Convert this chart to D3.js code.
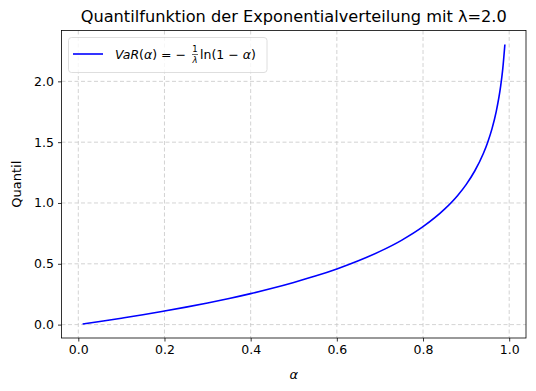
<!DOCTYPE html>
<html>
<head>
<meta charset="utf-8">
<script src="https://cdn.jsdelivr.net/npm/d3@7"></script>
<style>
  body { margin: 0; background: #fff; }
  svg { display: block; font-family: "DejaVu Sans", sans-serif; }
</style>
</head>
<body>
<svg id="chart" width="536" height="391"></svg>
<script>
// values (alpha → quantile)
const alphas = [0.01, 0.05, 0.10, 0.15, 0.20, 0.25, 0.30, 0.35, 0.40, 0.45, 0.50, 0.55, 0.60,
  0.65, 0.70, 0.75, 0.80, 0.85, 0.88, 0.90, 0.92, 0.94, 0.95, 0.96, 0.97, 0.98, 0.985, 0.99];
const quantiles = [0.005, 0.026, 0.053, 0.081, 0.112, 0.144, 0.178, 0.215, 0.255, 0.299, 0.347,
  0.399, 0.458, 0.525, 0.602, 0.693, 0.805, 0.949, 1.060, 1.151, 1.263, 1.407, 1.498, 1.609,
  1.753, 1.956, 2.100, 2.303];
const xTicks = [0, 0.2, 0.4, 0.6, 0.8, 1.0];
const yTicks = [0, 0.5, 1.0, 1.5, 2.0];

const M = { left: 61.5, right: 526, top: 30.5, bottom: 338 };

const svg = d3.select('#chart');

const x = d3.scaleLinear().domain([-0.039, 1.039]).range([M.left, M.right]);
const y = d3.scaleLinear().domain([-0.11, 2.418]).range([M.bottom, M.top]);

// ── grid ────────────────────────────────────────────────
const grid = svg.append('g').attr('stroke', '#c8c8c8').attr('stroke-dasharray', '4,2.5').attr('stroke-width', 0.8);
grid.selectAll('.gx').data(xTicks).join('line')
  .attr('x1', d => x(d)).attr('x2', d => x(d)).attr('y1', M.top).attr('y2', M.bottom);
grid.selectAll('.gy').data(yTicks).join('line')
  .attr('y1', d => y(d)).attr('y2', d => y(d)).attr('x1', M.left).attr('x2', M.right);

// ── curve ───────────────────────────────────────────────
const pts = alphas.map((a, i) => [a, quantiles[i]]);
svg.append('path')
  .datum(pts)
  .attr('fill', 'none')
  .attr('stroke', '#0000ff')
  .attr('stroke-width', 1.6)
  .attr('d', d3.line().x(d => x(d[0])).y(d => y(d[1])).curve(d3.curveMonotoneX));

// ── axes ────────────────────────────────────────────────
const xAxis = svg.append('g').attr('transform', `translate(0,${M.bottom})`)
  .call(d3.axisBottom(x).tickValues(xTicks).tickFormat(d3.format('.1f')).tickSize(3.5).tickPadding(4));
const yAxis = svg.append('g').attr('transform', `translate(${M.left},0)`)
  .call(d3.axisLeft(y).tickValues(yTicks).tickFormat(d3.format('.1f')).tickSize(3.5).tickPadding(4));
[xAxis, yAxis].forEach(g => {
  g.select('.domain').remove();
  g.selectAll('text').attr('font-size', 12.5).attr('fill', '#000').attr('font-family', 'DejaVu Sans');
  g.selectAll('line').attr('stroke', '#000').attr('stroke-width', 0.8);
});

svg.append('rect')
  .attr('x', M.left).attr('y', M.top)
  .attr('width', M.right - M.left).attr('height', M.bottom - M.top)
  .attr('fill', 'none').attr('stroke', '#000').attr('stroke-width', 0.8);

// ── labels ──────────────────────────────────────────────
svg.append('text')
  .attr('x', (M.left + M.right) / 2).attr('y', 21.5)
  .attr('text-anchor', 'middle').attr('font-size', 16.2)
  .text('Quantilfunktion der Exponentialverteilung mit λ=2.0');

svg.append('text')
  .attr('x', x(0.5)).attr('y', 379)
  .attr('text-anchor', 'middle').attr('font-size', 13).attr('font-style', 'italic')
  .text('α');

svg.append('text')
  .attr('transform', `translate(21,${(M.top + M.bottom) / 2}) rotate(-90)`)
  .attr('text-anchor', 'middle').attr('font-size', 13)
  .text('Quantil');

// ── legend ──────────────────────────────────────────────
const lg = svg.append('g');
lg.append('rect')
  .attr('x', 68.5).attr('y', 37.5).attr('width', 198.5).attr('height', 35).attr('rx', 3)
  .attr('fill', '#fff').attr('fill-opacity', 0.8).attr('stroke', '#d6d6d6').attr('stroke-width', 0.8);
lg.append('line')
  .attr('x1', 73).attr('x2', 103).attr('y1', 54).attr('y2', 54)
  .attr('stroke', '#0000ff').attr('stroke-width', 1.6);

const base = 59;
const t1 = lg.append('text').attr('x', 115).attr('y', base).attr('font-size', 12.5);
t1.append('tspan').attr('font-style', 'italic').text('VaR');
t1.append('tspan').text('(');
t1.append('tspan').attr('font-style', 'italic').text('α');
t1.append('tspan').text(') = −');
// fraction 1/λ
const fx = 195;
lg.append('text').attr('x', fx).attr('y', 52).attr('font-size', 8.5).attr('text-anchor', 'middle').text('1');
lg.append('line').attr('x1', fx - 3).attr('x2', fx + 3).attr('y1', 54.5).attr('y2', 54.5)
  .attr('stroke', '#000').attr('stroke-width', 0.6);
lg.append('text').attr('x', fx).attr('y', 63).attr('font-size', 8.5).attr('text-anchor', 'middle')
  .attr('font-style', 'italic').text('λ');
const t2 = lg.append('text').attr('x', 200).attr('y', base).attr('font-size', 12.5);
t2.append('tspan').text('ln(1 − ');
t2.append('tspan').attr('font-style', 'italic').text('α');
t2.append('tspan').text(')');
</script>
</body>
</html>
